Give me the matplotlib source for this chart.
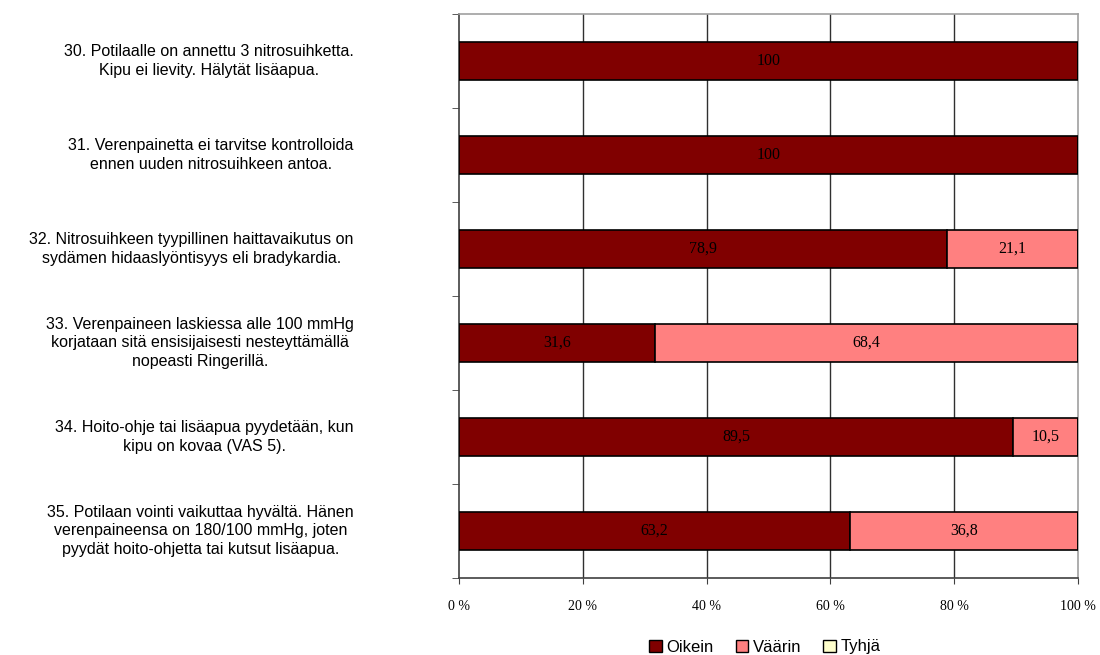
import numpy as np
import matplotlib.pyplot as plt
from matplotlib.patches import Patch

questions = [
    "30. Potilaalle on annettu 3 nitrosuihketta.\nKipu ei lievity. Hälytät lisäapua.",
    "31. Verenpainetta ei tarvitse kontrolloida\nennen uuden nitrosuihkeen antoa.",
    "32. Nitrosuihkeen tyypillinen haittavaikutus on\nsydämen hidaaslyöntisyys eli bradykardia.",
    "33. Verenpaineen laskiessa alle 100 mmHg\nkorjataan sitä ensisijaisesti nesteyttämällä\nnopeasti Ringerillä.",
    "34. Hoito-ohje tai lisäapua pyydetään, kun\nkipu on kovaa (VAS 5).",
    "35. Potilaan vointi vaikuttaa hyvältä. Hänen\nverenpaineensa on 180/100 mmHg, joten\npyydät hoito-ohjetta tai kutsut lisäapua.",
]
oikein = [100, 100, 78.9, 31.6, 89.5, 63.2]
vaarin = [0, 0, 21.1, 68.4, 10.5, 36.8]
tyhja = [0, 0, 0, 0, 0, 0]
series_names = ["Oikein", "Väärin", "Tyhjä"]
colors = ["#800000", "#FF8080", "#FFFFCC"]
xticks = [0, 20, 40, 60, 80, 100]

fig = plt.figure(figsize=(11, 6.55), dpi=100)
ax = fig.add_axes([459 / 1100, 1 - 578 / 655, (1078 - 459) / 1100, (578 - 14) / 655])

y = np.arange(len(questions))
left = np.zeros(len(questions))
for vals, col in zip([oikein, vaarin, tyhja], colors):
    vals = np.array(vals, dtype=float)
    ax.barh(y, vals, left=left, height=0.4, color=col, edgecolor="black", linewidth=1.2, zorder=3)
    for yi, l, v in zip(y, left, vals):
        if v > 0:
            ax.text(l + v / 2, yi, f"{v:g}".replace(".", ","), ha="center", va="center",
                    fontsize=11.5, family="Liberation Serif", color="black", zorder=4)
    left += vals

ax.set_xlim(0, 100)
ax.set_ylim(len(questions) - 0.5, -0.5)
ax.set_xticks(xticks)
ax.set_xticklabels([f"{t} %" for t in xticks], family="Liberation Serif", fontsize=10)
ax.tick_params(axis="x", length=4, pad=12, color="#404040")

ax.set_yticks(np.arange(-0.5, len(questions), 1), minor=True)
ax.set_yticks([])
ax.tick_params(axis="y", which="minor", length=5, direction="out", color="#404040")

for i, q in enumerate(questions):
    ax.text(-0.17, 1 - (i + 0.5) / len(questions), q, transform=ax.transAxes,
            ha="right", va="center", multialignment="center", fontsize=11.5,
            family="Liberation Sans", linespacing=1.3)

for t in xticks[1:-1]:
    ax.axvline(t, color="#303030", linewidth=1, zorder=1)

ax.spines["top"].set_color("#A0A0A0")
ax.spines["right"].set_color("#A0A0A0")
ax.spines["left"].set_color("#404040")
ax.spines["bottom"].set_color("#404040")
for s in ax.spines.values():
    s.set_linewidth(1.2)

handles = [Patch(facecolor=c, edgecolor="black", label=n) for c, n in zip(colors, series_names)]
fig.legend(handles=handles, loc="center", bbox_to_anchor=(765 / 1100, 1 - 647 / 655),
           ncol=3, frameon=False, prop={"family": "Liberation Sans", "size": 12},
           handlelength=0.75, handleheight=0.75, handletextpad=0.3, columnspacing=1.3)

fig.savefig("out.png", dpi=100)
